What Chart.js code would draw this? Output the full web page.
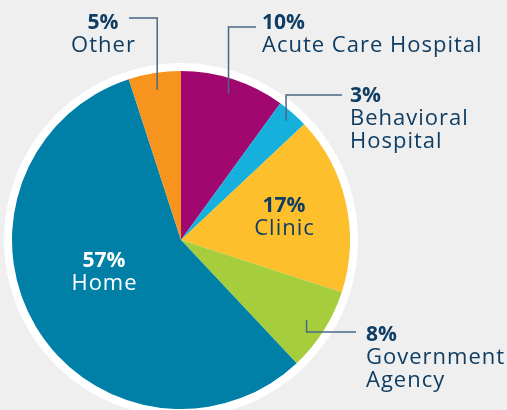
<!DOCTYPE html>
<html>
<head>
<meta charset="utf-8">
<script src="https://cdn.jsdelivr.net/npm/chart.js@4.4.1/dist/chart.umd.min.js"></script>
<style>
  html, body { margin: 0; padding: 0; background: #efefef; }
  #wrap { width: 507px; height: 410px; position: relative; }
</style>
</head>
<body>
<div id="wrap"><canvas id="pie-chart"></canvas></div>
<script>
const categories = ["Acute Care Hospital", "Behavioral Hospital", "Clinic", "Government Agency", "Home", "Other"];
const shares = [10, 3, 17, 8, 57, 5];
const sliceColors = ["#a1086f", "#16b0dc", "#fdbf2b", "#a6cd3c", "#0080a6", "#f7941e"];
// category names wrapped the way the picture shows them
const labelLines = [["Acute Care Hospital"], ["Behavioral", "Hospital"], ["Clinic"], ["Government", "Agency"], ["Home"], ["Other"]];

const navy = "#0f3d63";
const leaderColor = "#4a6886";
const fontFamily = "'Open Sans', sans-serif";

// where each label sits, and how its leader line runs (null = label inside slice)
const labelLayout = [
  { x: 262, y: 29, align: "left", color: navy, leader: { r: 0.91, lineY: 27, endX: 256 } },
  { x: 350, y: 102, align: "left", color: navy, leader: { r: 0.94, lineY: 95, endX: 342 } },
  { x: 284, y: 212, align: "center", color: navy, leader: null },
  { x: 366, y: 341, align: "left", color: navy, leader: { r: 0.88, lineY: 332, endX: 356 } },
  { x: 104, y: 267, align: "center", color: "#ffffff", leader: null },
  { x: 103, y: 29, align: "center", color: navy, leader: { r: 0.9, lineY: 18, endX: 129 } },
];

const ringPlugin = {
  id: "ring",
  beforeDatasetsDraw(chart) {
    const arc = chart.getDatasetMeta(0).data[0];
    const ctx = chart.ctx;
    ctx.save();
    ctx.beginPath();
    ctx.arc(arc.x, arc.y, arc.outerRadius + 8, 0, Math.PI * 2);
    ctx.fillStyle = "#ffffff";
    ctx.fill();
    ctx.restore();
  },
};

const labelPlugin = {
  id: "sliceLabels",
  afterDatasetsDraw(chart) {
    const ctx = chart.ctx;
    const arcs = chart.getDatasetMeta(0).data;
    ctx.save();
    arcs.forEach((arc, i) => {
      const lay = labelLayout[i];
      if (lay.leader) {
        const mid = (arc.startAngle + arc.endAngle) / 2;
        const ax = arc.x + Math.cos(mid) * arc.outerRadius * lay.leader.r;
        const ay = arc.y + Math.sin(mid) * arc.outerRadius * lay.leader.r;
        ctx.beginPath();
        ctx.moveTo(ax, ay);
        ctx.lineTo(ax, lay.leader.lineY);
        ctx.lineTo(lay.leader.endX, lay.leader.lineY);
        ctx.strokeStyle = leaderColor;
        ctx.lineWidth = 1.5;
        ctx.stroke();
      }
      ctx.fillStyle = lay.color;
      ctx.textAlign = lay.align;
      ctx.textBaseline = "alphabetic";
      ctx.letterSpacing = "0px";
      ctx.font = "bold 21px " + fontFamily;
      ctx.fillText(shares[i] + "%", lay.x, lay.y);
      ctx.font = "22px " + fontFamily;
      ctx.letterSpacing = "1px";
      const shift = lay.align === "center" ? 0.5 : 0;
      labelLines[i].forEach((line, j) => {
        ctx.fillText(line, lay.x + shift, lay.y + 23 * (j + 1));
      });
    });
    ctx.restore();
  },
};

new Chart(document.getElementById("pie-chart"), {
  type: "pie",
  data: {
    labels: categories,
    datasets: [
      {
        data: shares,
        backgroundColor: sliceColors,
        borderWidth: 0,
      },
    ],
  },
  options: {
    responsive: true,
    maintainAspectRatio: false,
    animation: false,
    layout: {
      padding: { left: 12, top: 71, right: 157, bottom: 1 },
    },
    plugins: {
      legend: { display: false },
      tooltip: { enabled: false },
    },
  },
  plugins: [ringPlugin, labelPlugin],
});
</script>
</body>
</html>
